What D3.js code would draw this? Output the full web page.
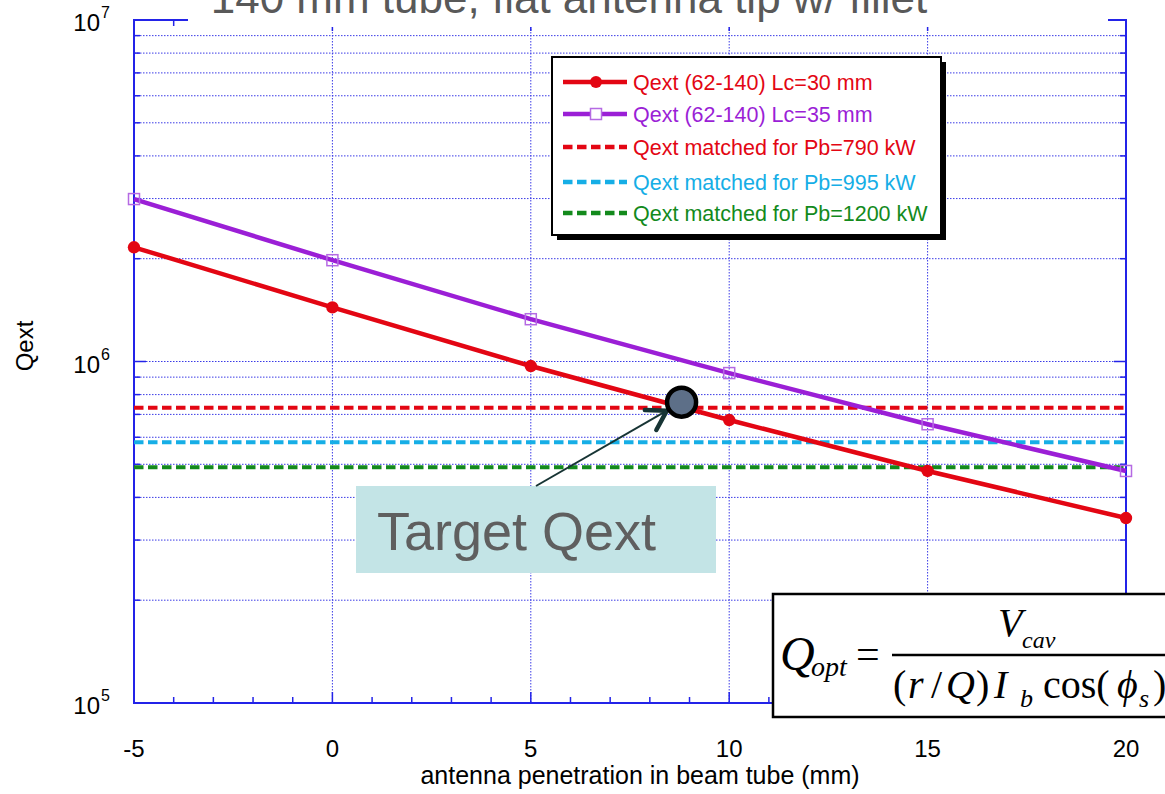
<!DOCTYPE html>
<html>
<head>
<meta charset="utf-8">
<script src="https://cdn.jsdelivr.net/npm/d3@7"></script>
<style>
  html, body { margin: 0; padding: 0; background: #ffffff; }
  svg { display: block; }
  text { font-family: Arial, "Liberation Sans", sans-serif; }
  .serif, .serif text { font-family: "Times New Roman", "Liberation Serif", serif; }
</style>
</head>
<body>
<svg id="chart" width="1165" height="794"></svg>
<script>
// Antenna penetration sweep (mm)
const penetration = [-5, 0, 5, 10, 15, 20];
// External Q for the two coupler lengths
const qextLc30 = [2.16e6, 1.44e6, 9.7e5, 6.74e5, 4.78e5, 3.48e5];
const qextLc35 = [2.99e6, 1.98e6, 1.33e6, 9.25e5, 6.55e5, 4.78e5];
// Matched Qext for each beam power
const matchedLabels = ["Qext matched for Pb=790 kW", "Qext matched for Pb=995 kW", "Qext matched for Pb=1200 kW"];
const matchedValues = [7.32e5, 5.8e5, 4.9e5];
const matchedColors = ["#e30613", "#16aee6", "#138a1c"];
const seriesLabels = ["Qext (62-140) Lc=30 mm", "Qext (62-140) Lc=35 mm"];
const xTicks = [-5, 0, 5, 10, 15, 20];
const yDecades = [5, 6, 7];
// Operating point marked on the Lc=30 curve
const targetPoint = { x: 8.8, q: 7.6e5 };

const RED = "#e30613", PURPLE = "#9b1fd6", PURPLE_MARK = "#b56ae3", AXIS = "#2323e8", GRID = "#3a3ae6";

const svg = d3.select("#chart");
const margin = { left: 134, right: 1126, top: 20, bottom: 703 };
const x = d3.scaleLinear().domain([-5, 20]).range([margin.left, margin.right]);
const y = d3.scaleLog().domain([1e5, 1e7]).range([margin.bottom, margin.top]);

// minor values for the log grid
const minorY = [];
[1e5, 1e6].forEach(d => { for (let k = 2; k <= 9; k++) minorY.push(d * k); });
const gridY = minorY.concat([1e6]);

// grid
const grid = svg.append("g");
grid.selectAll("line.h").data(gridY).join("line")
  .attr("x1", margin.left).attr("x2", margin.right)
  .attr("y1", d => y(d)).attr("y2", d => y(d))
  .attr("stroke", GRID).attr("stroke-width", 1).attr("stroke-dasharray", "1.5,1.5");
grid.selectAll("line.v").data(xTicks.slice(1, -1)).join("line")
  .attr("x1", d => x(d)).attr("x2", d => x(d))
  .attr("y1", margin.top).attr("y2", margin.bottom)
  .attr("stroke", GRID).attr("stroke-width", 1).attr("stroke-dasharray", "1.5,1.5");

// inner ticks on left/right axes
const axesG = svg.append("g");
const yTickData = minorY.map(v => ({ v, len: 6 })).concat([{ v: 1e6, len: 12 }]);
[margin.left, margin.right].forEach((x0, i) => {
  const dir = i === 0 ? 1 : -1;
  axesG.selectAll(null).data(yTickData).join("line")
    .attr("x1", x0).attr("x2", d => x0 + dir * d.len)
    .attr("y1", d => y(d.v)).attr("y2", d => y(d.v))
    .attr("stroke", AXIS).attr("stroke-width", 1.5);
});
// bottom/top ticks: every 1 mm, longer at major labels
const xMinor = d3.range(-4, 20, 1);
axesG.selectAll(null).data(xMinor).join("line")
  .attr("x1", d => x(d)).attr("x2", d => x(d))
  .attr("y1", margin.bottom).attr("y2", d => margin.bottom - (d % 5 === 0 ? 11 : 6))
  .attr("stroke", AXIS).attr("stroke-width", 1.5);
axesG.selectAll(null).data(xMinor).join("line")
  .attr("x1", d => x(d)).attr("x2", d => x(d))
  .attr("y1", margin.top).attr("y2", d => margin.top + (d % 5 === 0 ? 11 : 6))
  .attr("stroke", AXIS).attr("stroke-width", 1.5);
// frame
axesG.append("rect")
  .attr("x", margin.left).attr("y", margin.top)
  .attr("width", margin.right - margin.left).attr("height", margin.bottom - margin.top)
  .attr("fill", "none").attr("stroke", AXIS).attr("stroke-width", 2);

// matched Qext reference lines
const dashG = svg.append("g");
dashG.selectAll("line").data(matchedValues).join("line")
  .attr("x1", margin.left).attr("x2", margin.right)
  .attr("y1", d => y(d)).attr("y2", d => y(d))
  .attr("stroke", (d, i) => matchedColors[i]).attr("stroke-width", 4)
  .attr("stroke-dasharray", "9.5,4.5");

// series lines
const line = d3.line().x(d => x(d[0])).y(d => y(d[1]));
const s30 = penetration.map((p, i) => [p, qextLc30[i]]);
const s35 = penetration.map((p, i) => [p, qextLc35[i]]);
svg.append("path").datum(s35).attr("d", line)
  .attr("fill", "none").attr("stroke", PURPLE).attr("stroke-width", 4.5);
svg.append("path").datum(s30).attr("d", line)
  .attr("fill", "none").attr("stroke", RED).attr("stroke-width", 4.5);
svg.selectAll("rect.m35").data(s35).join("rect")
  .attr("x", d => x(d[0]) - 5.5).attr("y", d => y(d[1]) - 5.5)
  .attr("width", 11).attr("height", 11)
  .attr("fill", "none").attr("stroke", PURPLE_MARK).attr("stroke-width", 1.5);
svg.selectAll("circle.m30").data(s30).join("circle")
  .attr("cx", d => x(d[0])).attr("cy", d => y(d[1])).attr("r", 6.2)
  .attr("fill", RED);

// title (sits over the top frame edge)
svg.append("rect").attr("x", 188).attr("y", 0).attr("width", 920).attr("height", 27).attr("fill", "#ffffff");
svg.append("text").attr("x", 569).attr("y", 13).attr("text-anchor", "middle")
  .attr("font-size", 44).attr("fill", "#595959")
  .text("140 mm tube, flat antenna tip w/ fillet");

// y tick labels 10^n
const yLab = svg.append("g");
yDecades.forEach(e => {
  yLab.append("text").attr("x", 100).attr("y", y(Math.pow(10, e)) + 11)
    .attr("text-anchor", "end").attr("font-size", 24).attr("fill", "#000").text("10");
  yLab.append("text").attr("x", 101).attr("y", y(Math.pow(10, e)) - 2)
    .attr("font-size", 16).attr("fill", "#000").text(String(e));
});
// x tick labels
svg.selectAll("text.xt").data(xTicks).join("text")
  .attr("x", d => x(d)).attr("y", 757).attr("text-anchor", "middle")
  .attr("font-size", 24).attr("fill", "#000").text(d => d);
// axis titles
svg.append("text").attr("x", 640).attr("y", 784).attr("text-anchor", "middle")
  .attr("font-size", 25).attr("fill", "#000").text("antenna penetration in beam tube (mm)");
svg.append("text").attr("transform", "translate(33,346) rotate(-90)")
  .attr("text-anchor", "middle").attr("font-size", 24).attr("fill", "#000").text("Qext");

// legend
const leg = svg.append("g").attr("transform", "translate(552,57)");
const legW = 389, legH = 178;
leg.append("rect").attr("x", 5).attr("y", 5).attr("width", legW).attr("height", legH).attr("fill", "#000");
leg.append("rect").attr("x", 0).attr("y", 0).attr("width", legW).attr("height", legH)
  .attr("fill", "#fff").attr("stroke", "#000").attr("stroke-width", 2);
const legRows = [
  { label: seriesLabels[0], color: RED, dash: null, marker: "circle" },
  { label: seriesLabels[1], color: PURPLE, dash: null, marker: "square" },
  ...matchedLabels.map((l, i) => ({ label: l, color: matchedColors[i], dash: "9.5,4.5", marker: null }))
];
const rowY = [25, 57, 90, 125, 156];
legRows.forEach((r, i) => {
  const g = leg.append("g").attr("transform", `translate(0,${rowY[i]})`);
  g.append("line").attr("x1", 11).attr("x2", 75).attr("y1", 0).attr("y2", 0)
    .attr("stroke", r.color).attr("stroke-width", 4.5).attr("stroke-dasharray", r.dash);
  if (r.marker === "circle") g.append("circle").attr("cx", 44).attr("cy", 0).attr("r", 6).attr("fill", r.color);
  if (r.marker === "square") g.append("rect").attr("x", 38.5).attr("y", -5.5).attr("width", 11).attr("height", 11)
    .attr("fill", "#fff").attr("stroke", PURPLE_MARK).attr("stroke-width", 1.5);
  g.append("text").attr("x", 81).attr("y", 7.5).attr("font-size", 21.5).attr("fill", r.color).text(r.label);
});

// target annotation
const tx = x(targetPoint.x), ty = y(targetPoint.q);
const boxX = 356, boxY = 486, boxW = 360, boxH = 87;
svg.append("rect").attr("x", boxX).attr("y", boxY).attr("width", boxW).attr("height", boxH).attr("fill", "#c3e4e6");
svg.append("text").attr("x", boxX + 21).attr("y", boxY + 64).attr("font-size", 54).attr("fill", "#5f5f5f").text("Target Qext");
const sx = boxX + 180, sy = boxY;
const ang = Math.atan2(ty - sy, tx - sx);
const ex = tx - Math.cos(ang) * 17, ey = ty - Math.sin(ang) * 17;
svg.append("line").attr("x1", sx).attr("y1", sy).attr("x2", ex).attr("y2", ey)
  .attr("stroke", "#173434").attr("stroke-width", 2);
const ah = 22, spread = 0.55;
svg.append("path")
  .attr("d", `M${ex - ah * Math.cos(ang - spread)},${ey - ah * Math.sin(ang - spread)} L${ex},${ey} L${ex - ah * Math.cos(ang + spread)},${ey - ah * Math.sin(ang + spread)}`)
  .attr("fill", "none").attr("stroke", "#173434").attr("stroke-width", 4.5).attr("stroke-linecap", "round").attr("stroke-linejoin", "round");
svg.append("circle").attr("cx", tx).attr("cy", ty).attr("r", 14.5)
  .attr("fill", "#5d6f88").attr("stroke", "#000").attr("stroke-width", 4.5);

// optimum-Q formula
const fg = svg.append("g").attr("class", "serif");
fg.append("rect").attr("x", 773).attr("y", 594).attr("width", 420).attr("height", 123)
  .attr("fill", "#fff").attr("stroke", "#000").attr("stroke-width", 2.5);
const ft = (s, xx, yy, size, italic) => fg.append("text")
  .attr("x", xx).attr("y", yy).attr("font-size", size)
  .attr("font-style", italic ? "italic" : "normal").attr("fill", "#000").text(s);
ft("Q", 780, 670, 48, true);
ft("opt", 811, 676, 28, true);
ft("=", 856, 668, 42, false);
fg.append("line").attr("x1", 892).attr("x2", 1175).attr("y1", 655).attr("y2", 655).attr("stroke", "#000").attr("stroke-width", 2.5);
ft("V", 998, 636, 40, true);
ft("cav", 1022, 648, 24, true);
ft("(", 893, 698, 40, false);
ft("r", 908, 698, 40, true);
ft("/", 931, 698, 40, false);
ft("Q", 946, 698, 40, true);
ft(")", 976, 698, 40, false);
ft("I", 994, 698, 40, true);
ft("b", 1020, 707, 26, true);
ft("cos(", 1043, 698, 40, false);
ft("\u03D5", 1117, 698, 40, true);
ft("s", 1139, 707, 26, true);
ft(")", 1153, 698, 40, false);
</script>
</body>
</html>
